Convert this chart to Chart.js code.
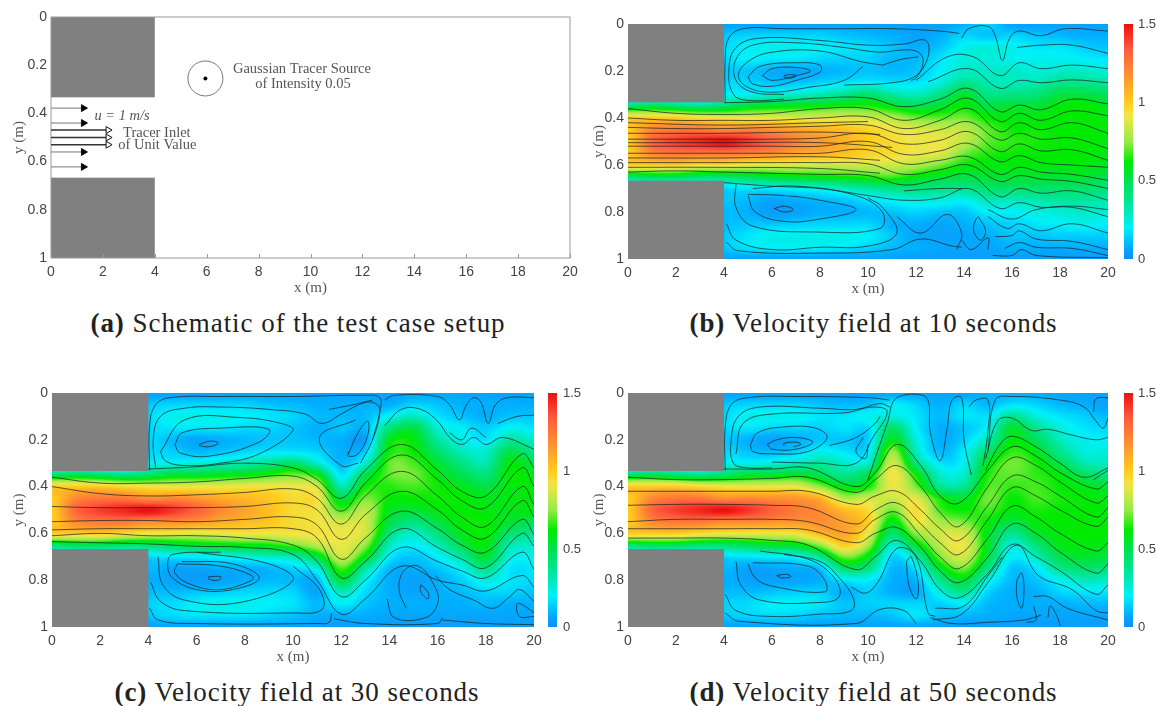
<!DOCTYPE html>
<html>
<head>
<meta charset="utf-8">
<title>Velocity field</title>
<script src="https://cdn.jsdelivr.net/npm/chart.js@4"></script>
<style>
  html, body { margin: 0; padding: 0; background: #fff; overflow: hidden; }
  body { width: 1156px; height: 706px; position: relative; }
  canvas { position: absolute; filter: blur(0.45px); }
  .cap { position: absolute; text-align: center; white-space: nowrap; color: #222; letter-spacing: .95px;
         font-family: "Liberation Serif", serif; font-size: 27px; line-height: 30px; }
</style>
</head>
<body>
<canvas id="panelA" width="578" height="300" style="left:0;top:0"></canvas>
<canvas id="panelB" width="576" height="301" style="left:580px;top:0"></canvas>
<canvas id="panelC" width="590" height="309" style="left:0;top:360px"></canvas>
<canvas id="panelD" width="576" height="309" style="left:580px;top:360px"></canvas>
<div class="cap" style="left:0;width:596px;top:308px"><b>(a)</b> Schematic of the test case setup</div>
<div class="cap" style="left:580px;width:587px;top:308px"><b>(b)</b> Velocity field at 10 seconds</div>
<div class="cap" style="left:0;width:594px;top:677px"><b>(c)</b> Velocity field at 30 seconds</div>
<div class="cap" style="left:580px;width:587px;top:677px"><b>(d)</b> Velocity field at 50 seconds</div>
<script>
// axis ticks
var xTicks = [0, 2, 4, 6, 8, 10, 12, 14, 16, 18, 20];
var yTicks = [0, 0.2, 0.4, 0.6, 0.8, 1];
var barTicks = [0, 0.5, 1, 1.5];

// grid the velocities were read on (m)
var gridX = [0, 1, 2, 3, 4, 5, 6, 7, 8, 9, 10, 11, 12, 13, 14, 15, 16, 17, 18, 19, 20];
var gridY = [0, .05, .1, .15, .2, .25, .3, .35, .4, .45, .5, .55, .6, .65, .7, .75, .8, .85, .9, .95, 1];

// velocity, hundredths of m/s, one list per x column, top to bottom
var velB = [
  [0,0,0,0,0,0,0,45,100,100,100,100,100,45,0,0,0,0,0,0,0],
  [0,0,0,0,0,0,0,50,100,120,130,120,100,50,0,0,0,0,0,0,0],
  [0,0,0,0,0,0,0,45,100,125,140,125,100,50,0,0,0,0,0,0,0],
  [0,0,0,0,0,0,0,40,95,125,145,125,95,45,0,0,0,0,0,0,0],
  [5,12,15,15,12,15,20,45,92,120,150,125,95,45,15,12,10,10,12,12,5],
  [5,15,20,20,12,15,22,55,90,122,142,122,90,50,18,10,8,12,18,18,5],
  [5,15,22,18,8,12,25,58,90,118,132,118,88,55,20,6,4,12,22,20,5],
  [5,15,22,18,6,12,28,60,88,112,122,112,88,58,22,8,5,14,22,20,5],
  [5,15,20,15,8,15,32,62,88,108,115,108,85,60,25,10,8,15,22,20,5],
  [5,12,18,14,10,18,38,65,88,104,108,104,85,62,30,12,8,15,22,18,5],
  [5,10,16,14,12,20,45,65,85,98,100,98,85,65,35,18,10,15,20,15,5],
  [5,8,12,10,10,18,35,58,80,92,95,95,85,68,40,22,12,8,12,10,5],
  [5,5,8,10,12,18,30,50,72,88,90,90,80,60,42,25,15,8,6,8,4],
  [5,8,12,18,20,25,40,55,70,85,90,88,72,55,40,25,12,6,5,6,4],
  [8,15,22,25,28,38,55,62,72,82,82,72,62,52,38,22,12,8,6,6,4],
  [15,12,25,25,28,32,40,52,62,70,70,65,60,55,45,30,20,12,8,6,4],
  [5,15,22,22,28,30,40,55,60,63,66,63,60,55,45,30,20,15,12,8,4],
  [5,12,18,22,25,32,42,55,60,63,64,62,60,55,45,32,24,18,12,8,4],
  [5,10,18,22,28,38,52,60,62,62,62,62,60,55,45,35,26,20,14,8,4],
  [5,8,14,20,28,38,52,62,62,62,62,62,60,55,45,35,28,22,14,8,4],
  [5,8,12,18,25,35,48,58,60,60,60,60,58,50,42,32,26,20,14,8,4]
];
var velC = [
  [0,0,0,0,0,0,0,45,100,100,100,100,100,45,0,0,0,0,0,0,0],
  [0,0,0,0,0,0,0,50,100,120,130,120,100,50,0,0,0,0,0,0,0],
  [0,0,0,0,0,0,0,45,100,125,140,125,100,50,0,0,0,0,0,0,0],
  [0,0,0,0,0,0,0,40,95,125,145,125,95,45,0,0,0,0,0,0,0],
  [5,12,15,15,15,15,20,45,92,118,150,120,92,45,15,10,8,10,14,12,5],
  [5,15,22,18,10,14,22,55,90,120,142,120,90,50,18,6,5,10,16,16,5],
  [5,15,22,18,6,10,25,55,90,116,132,116,88,55,20,6,4,12,20,18,5],
  [5,15,22,18,8,12,28,58,90,110,120,110,90,58,22,8,5,14,22,18,5],
  [5,15,20,16,10,15,32,60,92,106,112,106,92,60,25,8,8,15,22,18,5],
  [5,12,18,15,12,18,38,65,92,102,104,102,90,62,28,10,10,16,20,15,5],
  [5,10,15,12,12,18,45,72,90,95,95,95,92,70,32,15,10,15,18,12,5],
  [5,8,10,8,10,15,28,62,85,92,92,92,92,82,52,25,10,6,10,8,4],
  [5,8,10,12,8,8,10,18,32,52,68,85,90,90,85,68,52,30,20,8,4],
  [5,8,10,10,6,14,28,50,62,72,82,85,85,75,58,35,22,16,12,8,4],
  [5,8,22,42,58,62,70,70,65,62,58,52,42,30,20,10,8,8,8,6,4],
  [6,15,30,52,60,62,68,72,68,62,55,42,28,20,12,8,5,6,8,6,4],
  [6,12,18,26,35,45,55,60,63,63,60,52,42,30,20,12,8,8,8,6,4],
  [6,8,12,20,24,30,40,50,58,62,62,62,58,50,35,22,14,10,8,6,4],
  [5,8,8,14,18,28,32,42,52,58,60,62,62,60,55,40,25,15,10,6,4],
  [5,8,12,22,35,50,60,62,60,60,58,55,45,32,25,18,18,15,8,6,4],
  [5,8,12,18,28,38,52,58,60,60,60,50,38,28,22,18,16,12,8,6,4]
];
var velD = [
  [0,0,0,0,0,0,0,45,100,100,100,100,100,45,0,0,0,0,0,0,0],
  [0,0,0,0,0,0,0,50,100,120,130,120,100,50,0,0,0,0,0,0,0],
  [0,0,0,0,0,0,0,45,100,125,140,125,100,50,0,0,0,0,0,0,0],
  [0,0,0,0,0,0,0,40,95,125,145,125,95,45,0,0,0,0,0,0,0],
  [5,12,15,15,12,15,22,45,92,118,150,120,92,45,15,10,8,10,14,12,5],
  [5,15,22,18,8,12,22,55,90,120,142,120,90,50,18,5,5,10,16,15,5],
  [5,15,22,15,5,10,25,55,90,118,132,118,90,55,20,6,5,12,20,16,5],
  [5,15,22,15,8,14,30,58,90,116,124,116,92,58,22,8,6,14,20,15,5],
  [5,12,18,14,12,22,35,50,75,108,118,118,106,75,38,12,8,14,18,12,5],
  [5,10,18,18,12,18,28,38,58,80,105,112,112,100,72,45,18,8,12,10,5],
  [5,12,22,16,14,18,28,52,62,85,95,100,90,78,58,40,20,14,14,10,5],
  [6,20,25,45,58,75,85,92,90,85,72,58,45,28,15,10,8,8,15,12,5],
  [6,15,18,20,25,30,42,62,72,88,95,90,75,55,32,18,10,6,15,18,6],
  [5,8,10,8,8,10,18,28,38,62,68,78,85,82,72,55,38,25,14,12,5],
  [5,15,18,12,14,20,22,28,38,55,62,72,85,90,85,72,55,38,20,10,4],
  [8,10,18,22,32,45,58,64,68,72,68,62,58,56,52,40,25,15,10,8,4],
  [8,18,38,55,60,66,72,70,66,62,60,52,38,25,20,12,10,8,8,6,4],
  [8,15,25,38,48,58,64,66,68,68,64,60,55,42,30,18,12,8,8,6,4],
  [6,10,18,25,30,38,50,60,62,64,62,62,60,58,50,38,22,15,8,6,4],
  [5,8,14,18,22,25,32,48,58,62,62,62,62,60,55,45,30,18,10,6,4],
  [5,5,10,15,20,25,30,40,55,58,60,62,62,58,52,42,28,18,10,6,4]
];

// streamlines through the jet: y at each key x, null where the line has not started
var jetXB = [0, 2, 4, 6, 8, 10, 11.5, 13, 14.2, 15.5, 16.3, 17.2, 18.5, 20];
var jetB = [
  [null,null,.335,.33,.315,.315,.352,.32,.274,.373,.345,.365,.32,.34],
  [.36,.38,.385,.38,.36,.36,.41,.365,.316,.415,.38,.41,.37,.39],
  [.40,.41,.41,.41,.40,.395,.445,.41,.359,.458,.42,.45,.42,.465],
  [.44,.445,.445,.44,.435,.43,.47,.45,.416,.494,.465,.49,.485,.53],
  [.49,.49,.49,.49,.485,.465,.51,.495,.458,.543,.51,.54,.535,.58],
  [.52,.52,.52,.52,.52,.50,.555,.54,.508,.586,.56,.59,.60,.61],
  [.55,.55,.55,.55,.55,.535,.595,.58,.565,.64,.61,.63,.64,.665],
  [.59,.59,.59,.59,.59,.595,.64,.62,.60,.67,.645,.66,.67,.70],
  [.63,.625,.63,.635,.64,.645,.685,.66,.64,.735,.70,.72,.71,.75],
  [null,null,.675,.69,.70,.73,.75,.74,.70,.785,.76,.78,.78,.82]
];
var jetXC = [0, 2, 4, 6, 8, 10, 11, 12, 13, 14.5, 16, 17, 18, 19.5, 20];
var jetC = [
  [null,null,.325,.315,.30,.32,.37,.45,.33,.22,.33,.42,.44,.26,.32],
  [.36,.385,.385,.38,.365,.355,.40,.505,.385,.265,.37,.46,.49,.32,.40],
  [.40,.43,.44,.435,.425,.41,.45,.56,.44,.335,.44,.53,.57,.40,.477],
  [.485,.49,.49,.49,.485,.47,.50,.625,.52,.42,.50,.585,.62,.46,.53],
  [.55,.545,.545,.55,.54,.53,.565,.71,.62,.505,.58,.65,.68,.54,.605],
  [.585,.58,.58,.58,.58,.58,.62,.79,.72,.58,.66,.71,.747,.60,.655],
  [.61,.60,.61,.61,.62,.65,.72,.87,.80,.66,.72,.76,.79,.68,.754],
  [.635,.64,.645,.655,.66,.69,.80,.945,.88,.74,.80,.82,.846,.78,.83]
];
var jetXD = [0, 2, 4, 6, 7.5, 9.5, 10.3, 11.2, 12.2, 13, 13.8, 15, 16, 17, 18, 19.5, 20];
var jetD = [
  [null,null,.325,.325,.32,.40,.34,.22,.31,.44,.47,.33,.23,.27,.34,.41,.38],
  [.36,.37,.37,.365,.36,.425,.37,.31,.40,.51,.57,.40,.277,.31,.38,.47,.44],
  [.42,.42,.42,.42,.42,.476,.44,.42,.50,.58,.63,.48,.355,.38,.44,.53,.49],
  [.48,.476,.476,.48,.49,.56,.50,.47,.56,.64,.69,.54,.405,.44,.50,.57,.53],
  [.55,.54,.54,.54,.55,.60,.54,.51,.61,.70,.75,.62,.484,.53,.60,.675,.64],
  [.58,.58,.58,.58,.585,.64,.60,.575,.66,.76,.81,.70,.56,.60,.68,.77,.73],
  [.62,.62,.62,.63,.65,.755,.70,.63,.72,.84,.875,.77,.647,.70,.76,.86,.82]
];

// the other streamlines: x, y, x, y ...
var loopsB = [
  [0,.42,4,.43,8,.42,10,.415],
  [0,.465,4,.465,8,.46,10.5,.47],
  [0,.505,4,.505,8,.505,11,.525],
  [0,.57,4,.57,8,.565,10.5,.58],
  [0,.61,4,.61,8,.615,10.5,.635],
  [4.05,.33,4.05,.15,4.2,.06,4.8,.02,6.5,.02,9,.02,11,.02,13,.03,13.8,.04],
  [6.5,.32,5,.325,4.4,.30,4.2,.2,4.5,.1,5.5,.06,8,.07,10,.09,11.5,.085,12.4,.07,12.5,.14,12,.23,11.8,.24],
  [6.5,.30,5.2,.29,4.5,.24,4.5,.15,5.2,.09,7,.08,9,.10,10.5,.12,11.5,.11,12.1,.12,12.3,.16,12,.22,11,.25,9,.26],
  [10.6,.175,9.7,.16,8,.115,6,.12,5,.16,4.6,.22,5,.27,6,.29,7.5,.27,9,.24,9.8,.18],
  [10.6,.175,11.4,.15,12.1,.14],
  [5,.225,5.5,.18,7,.165,8,.175,8,.205,7,.24,6,.265,5.2,.255,5,.225],
  [5.6,.22,6,.19,7,.185,7.6,.2,7,.22,6,.24,5.6,.22],
  [6.5,.22,6.8,.215,7,.22,6.8,.23,6.5,.225,6.5,.22],
  [12.5,.246,14.2,.19,15.5,.274,16.3,.24,17.2,.25,18.5,.238,20,.25],
  [12,.24,13.3,.14,14.4,.14,15.5,.22,16.3,.165,17.2,.19,18.5,.175,20,.19],
  [16.2,.10,17.2,.09,18.5,.09,20,.125],
  [13.9,.06,14.2,.02,15,.01,15.3,.05,15.6,.155,15.9,.06,16.3,.03,17.2,.05,18.2,.02,20,.03],
  [4.5,.68,4.5,.78,5.2,.86,7.8,.885,10.5,.87,10.6,.80,9.5,.73,7,.69,5.2,.70],
  [5,.73,5.3,.80,6.5,.84,8,.83,9.5,.79,8,.75,6.5,.73,5,.725],
  [6.1,.785,6.5,.775,6.9,.79,6.5,.80,6.1,.785],
  [4.1,.85,4.5,.92,6,.96,8,.95,10,.945,11.2,.89,10.6,.78,10,.74],
  [4.1,.93,4.6,.965,8,.975,11,.96,12.2,.915,13.5,.945,13.9,.95],
  [11.2,.82,12.2,.89,13.3,.81,13.9,.89,13.7,.96],
  [11.5,.71,13,.70,13.9,.70],
  [14.6,.82,14.9,.88,14.7,.92,14.4,.88,14.5,.83,14.6,.82],
  [13.9,.92,14.3,.96,15,.91,15,.96],
  [15,.79,16,.83,17,.79,18.5,.775,20,.79],
  [15,.82,15.8,.87,16.3,.85,17.2,.88,18.5,.85,20,.89],
  [15.3,.905,16,.90,16.3,.88,17,.915,18.5,.925,20,.96],
  [15.7,.955,16.3,.93,17,.95,18.5,.955,20,.985],
  [15.2,.985,16,.985,16.4,.96,17,.985,20,.995]
];
var loopsC = [
  [4.05,.33,4.05,.14,4.3,.05,4.9,.02,7,.015,10,.015,13,.01,13.6,.02,13.6,.08,13.3,.2],
  [4.3,.32,4.2,.2,4.5,.1,5.5,.065,7,.06,9,.07,10.5,.09,11.2,.13,12,.09,13,.04,13.5,.05,13.6,.09,13.3,.2,12.8,.3],
  [11.5,.07,12.5,.05,13.3,.03],
  [4.5,.25,5.5,.115,7.8,.105,9.5,.13,10,.16,8.6,.26,7,.30,5.5,.31,4.7,.29,4.5,.25],
  [5.1,.22,5.4,.17,7,.15,9,.155,8.6,.21,6.5,.27,5.3,.255,5.1,.22],
  [6.1,.22,6.6,.205,6.9,.215,6.5,.23,6.1,.225],
  [12.6,.115,11.1,.19,12,.31,12.7,.30],
  [12.3,.26,12.7,.17,13.1,.12,13.1,.18,12.7,.26,12.3,.27,12.3,.25],
  [13.8,.14,14.5,.07,15.3,.07,16,.12,16.5,.19,17,.22,17.5,.19,18,.22,18.7,.19,20,.24],
  [13.8,.03,14.2,.01,16,.015,16.5,.05,16.9,.115,17.2,.05,17.5,.02,17.8,.04,18.1,.13,18.4,.05,18.9,.02,20,.02],
  [16.5,.17,17,.2,17.4,.15,18,.19],
  [18.5,.13,19.3,.10,20,.095],
  [5.4,.72,7.5,.73,8.6,.79,7.5,.84,6,.84,5,.79,4.8,.73,5,.69,7,.68],
  [5.2,.73,7,.74,8.3,.78,8.3,.8,7,.84,5.8,.82,5.1,.77,5.2,.73],
  [6.5,.785,7,.785,6.9,.8,6.5,.795,6.5,.785],
  [4.4,.7,4.6,.82,5.5,.885,7.8,.895,10,.80,9,.73,6,.68],
  [4.1,.81,4.5,.89,5.5,.93,10,.94,11.2,.925,11.1,.84,10,.74],
  [4.05,.92,4.4,.97,6,.985,11,.985,11.5,.98,11.6,.94],
  [11.7,.965,13,.985,16,.985,16.2,.96],
  [15.3,.82,15.6,.85,15.6,.88,15.3,.85,15.3,.82],
  [13.9,.88,14.2,.96,15.5,.96,16,.9,15.9,.83,15.2,.74,14.6,.76,14.4,.84,14.7,.92],
  [20,.955,19.4,.955,19.3,.9,19.6,.91,20,.94],
  [15.9,.78,16.5,.84,17.5,.885,18.3,.92,19,.87,19.4,.84,20,.89],
  [16.2,.97,18,.985,20,.99]
];
var loopsD = [
  [4.05,.33,4.05,.15,4.3,.05,5,.02,7,.015,10,.02,10.9,.03],
  [10,.37,10.8,.13,11.2,.02,12.4,.015,12.6,.17,13,.29,13.3,.15,13.5,.03,13.9,.02,14,.2,14.3,.35],
  [14.2,.06,14.5,.03,15,.03,15,.16,14.8,.31],
  [15,.25,15.3,.03,16,.015,18,.03,19,.06,19.5,.12,19.8,.15,20,.11],
  [19.4,.08,19.5,.025,20,.02],
  [14.9,.28,15.4,.12,16,.107,16.8,.16,17.5,.155,18.5,.18,19.5,.2,20,.19],
  [14.9,.33,15.5,.22,16,.185,17,.23,18,.3,19,.36,20,.32],
  [19.4,.37,20,.33],
  [6,.32,5,.32,4.4,.3,4.3,.2,4.6,.1,5.5,.06,8,.065,9.5,.07,10.5,.045,10.9,.06],
  [4.5,.26,4.8,.13,6,.09,9,.085,10.2,.06,10.8,.08,10.2,.19,9.5,.3,8,.30,6,.295],
  [8.4,.225,9.5,.19,10.3,.13,10.5,.1],
  [9.8,.19,9.5,.25,9.9,.28,10,.22],
  [5.1,.22,5.4,.17,6.5,.145,7.8,.15,8.3,.19,7.5,.25,6,.26,5.2,.25,5.1,.22],
  [5.8,.22,6.2,.2,7,.19,7.7,.21,7,.24,6,.24,5.8,.22],
  [6.5,.225,6.5,.215,7,.21,7.2,.22,6.9,.23],
  [4.05,.86,4.5,.93,6,.955,8,.945,9.3,.93,9.4,.88,8.8,.79,8,.72,6.5,.69],
  [4.5,.72,4.7,.82,5.5,.885,8,.895,8.8,.87,8.6,.79,7.5,.71,5.5,.675],
  [5,.73,5.3,.79,6,.825,8.2,.85,8.2,.8,7.5,.74,5.2,.725],
  [6.2,.78,6.6,.775,6.8,.785,6.4,.79,6.2,.78],
  [4.05,.94,4.6,.975,9.5,.985,10.5,.925,11.5,.93,12,.985],
  [12.6,.96,13.5,.985,15,.98,16.5,.97,17.2,.95],
  [11.6,.72,11.8,.70,12.1,.82,12,.88,11.7,.82,11.6,.72],
  [9.3,.83,9.9,.855,10.4,.81,11.2,.665,12,.70,12.5,.94,12.8,.955],
  [12.7,.97,13.9,.945,15,.81,16.2,.65,17.1,.78,18.5,.84,19.5,.93,20,.94],
  [12.8,.92,14,.91,15,.78,15.6,.7],
  [16.2,.8,16.4,.77,16.5,.84,16.4,.92,16.2,.87,16.2,.8],
  [16.9,.87,17.5,.87,18.3,.92,20,.97],
  [17.5,.96,17.6,.91,17.9,.96,18,.995],
  [16.9,.91,17,.97,16.6,.98]
];

// schematic: arrows and source
var flowArrowY = [.378, .44, .56, .622];
var flowArrowEnd = 1.25;
var tracerArrowY = [.469, .5, .53];
var tracerArrowEnd = 2.2;
var sourceX = [5.95];
var sourceY = [.255];
var noteText = ['Gaussian Tracer Source', 'of Intensity 0.05', 'u = 1 m/s', 'Tracer Inlet', 'of Unit Value'];
var noteX = [9.67, 9.71, 2.74, 4.08, 4.1];
var noteY = [.216, .278, .41, .481, .531];

// solid blocks at the inlet (m)
var blockX = [0, 4];
var blockY = [[0, 1 / 3], [2 / 3, 1]];

// colour scale
var cmapV = [0, .08, .2, .36, .5, .62, .75, .91, 1, 1.19, 1.34, 1.5];
var cmapR = [20, 0, 0, 0, 0, 0, 150, 240, 255, 255, 255, 235];
var cmapG = [140, 175, 240, 230, 225, 235, 235, 230, 205, 140, 90, 15];
var cmapB = [245, 255, 250, 150, 80, 0, 70, 70, 30, 50, 60, 15];

function colorAt(v) {
  if (v <= 0) return [cmapR[0], cmapG[0], cmapB[0]];
  for (var i = 1; i < cmapV.length; i++) {
    if (v <= cmapV[i]) {
      var t = (v - cmapV[i - 1]) / (cmapV[i] - cmapV[i - 1]);
      return [cmapR[i - 1] + (cmapR[i] - cmapR[i - 1]) * t,
              cmapG[i - 1] + (cmapG[i] - cmapG[i - 1]) * t,
              cmapB[i - 1] + (cmapB[i] - cmapB[i - 1]) * t];
    }
  }
  return [cmapR[cmapR.length - 1], cmapG[cmapG.length - 1], cmapB[cmapB.length - 1]];
}

function cubic(a, b, c, d, t) {
  return b + 0.5 * t * (c - a + t * (2 * a - 5 * b + 4 * c - d + t * (3 * (b - c) + d - a)));
}

function locate(list, v) {
  var i = 0;
  while (i < list.length - 2 && v >= list[i + 1]) i++;
  return [i, (v - list[i]) / (list[i + 1] - list[i])];
}

function sample(vel, xv, yv) {
  var px = locate(gridX, xv), py = locate(gridY, yv);
  var nx = gridX.length - 1, ny = gridY.length - 1, rows = [];
  for (var k = -1; k <= 2; k++) {
    var col = vel[Math.max(0, Math.min(nx, px[0] + k))];
    rows.push(cubic(col[Math.max(0, py[0] - 1)], col[py[0]], col[py[0] + 1], col[Math.min(ny, py[0] + 2)], py[1]));
  }
  return cubic(rows[0], rows[1], rows[2], rows[3], px[1]) / 100;
}

function drawBlocks(chart) {
  var c = chart.ctx, sx = chart.scales.x, sy = chart.scales.y;
  c.fillStyle = '#808080';
  blockY.forEach(function(b) {
    c.fillRect(sx.getPixelForValue(blockX[0]), sy.getPixelForValue(b[0]),
      sx.getPixelForValue(blockX[1]) - sx.getPixelForValue(blockX[0]),
      sy.getPixelForValue(b[1]) - sy.getPixelForValue(b[0]));
  });
}

// velocity field and colour bar, read through the chart's own scales
function fieldPlugin(vel, barGap) {
  return {
    id: 'field',
    beforeDatasetsDraw: function(chart) {
      var a = chart.chartArea, sx = chart.scales.x, sy = chart.scales.y, c = chart.ctx;
      var w = Math.round(a.right - a.left), h = Math.round(a.bottom - a.top);
      var img = c.createImageData(w, h), o = 0;
      for (var j = 0; j < h; j++) {
        var yv = sy.getValueForPixel(a.top + j + .5);
        for (var i = 0; i < w; i++) {
          var rgb = colorAt(sample(vel, sx.getValueForPixel(a.left + i + .5), yv));
          img.data[o++] = rgb[0]; img.data[o++] = rgb[1]; img.data[o++] = rgb[2]; img.data[o++] = 255;
        }
      }
      c.putImageData(img, a.left, a.top);
      drawBlocks(chart);
      var sb = chart.scales.cb;
      for (var p = Math.round(sb.top); p < sb.bottom; p++) {
        var col = colorAt(sb.getValueForPixel(p + .5));
        c.fillStyle = 'rgb(' + col.map(Math.round).join(',') + ')';
        c.fillRect(sb.left + barGap, p, 9, 1);
      }
    }
  };
}

var schematicPlugin = {
  id: 'schematic',
  beforeDatasetsDraw: function(chart) {
    var a = chart.chartArea, c = chart.ctx, sx = chart.scales.x;
    drawBlocks(chart);
    c.strokeStyle = '#999';
    c.lineWidth = 1;
    c.strokeRect(a.left, a.top, a.right - a.left, a.bottom - a.top);
    xTicks.forEach(function(t) {
      var p = Math.round(sx.getPixelForValue(t)) + .5;
      c.beginPath(); c.moveTo(p, a.bottom); c.lineTo(p, a.bottom - 4); c.stroke();
    });
  },
  afterDatasetsDraw: function(chart) {
    var c = chart.ctx, sx = chart.scales.x, sy = chart.scales.y;
    c.fillStyle = '#555';
    c.textAlign = 'center';
    c.textBaseline = 'middle';
    noteText.forEach(function(t, i) {
      c.font = (i == 2 ? 'italic ' : '') + '14.5px "Liberation Serif"';
      c.fillText(t, sx.getPixelForValue(noteX[i]), sy.getPixelForValue(noteY[i]));
    });
  }
};

function flatToPoints(flat) {
  var pts = [];
  for (var i = 0; i < flat.length; i += 2) pts.push({x: flat[i], y: flat[i + 1]});
  return pts;
}

function keysToPoints(xs, ys) {
  var pts = [];
  ys.forEach(function(y, i) { if (y !== null) pts.push({x: xs[i], y: y}); });
  return pts;
}

function streamSet(points) {
  return {
    data: points, showLine: true, pointRadius: 0, tension: 0.4,
    borderColor: 'rgba(25,35,35,.72)', borderWidth: 1, fill: false
  };
}

function arrowSet(y, end, width, headFill, head) {
  return {
    data: [{x: 0, y: y}, {x: end, y: y}], showLine: true, borderColor: width > 1 ? '#333' : '#777', borderWidth: width,
    tension: 0, pointStyle: 'triangle', pointRotation: 90, pointRadius: [0, head],
    pointBackgroundColor: headFill, pointBorderColor: '#111', pointBorderWidth: 1
  };
}

// no automatic room for the outer tick labels: the plot rectangles are fixed
function noAutoPadding(s) {
  s.paddingTop = 0; s.paddingBottom = 0; s.paddingLeft = 0; s.paddingRight = 0;
}

function baseOptions(pad, yWidth, barWidth, barPadding) {
  var tickFont = {family: '"Liberation Sans"', size: 14};
  var titleFont = {family: '"Liberation Serif"', size: 15};
  var scales = {
    x: {
      type: 'linear', min: 0, max: 20, grid: {display: false, drawTicks: false}, border: {display: false},
      afterBuildTicks: function(s) { s.ticks = xTicks.map(function(v) { return {value: v}; }); },
      afterFit: function(s) { s.height = 42; noAutoPadding(s); },
      ticks: {autoSkip: false, maxRotation: 0, font: tickFont, color: '#444', padding: 6},
      title: {display: true, text: 'x (m)', font: titleFont, color: '#555', padding: {top: 0, bottom: 3}}
    },
    y: {
      type: 'linear', min: 0, max: 1, reverse: true, grid: {display: false, drawTicks: false}, border: {display: false},
      afterBuildTicks: function(s) { s.ticks = yTicks.map(function(v) { return {value: v}; }); },
      afterFit: function(s) { s.width = yWidth; noAutoPadding(s); },
      ticks: {autoSkip: false, font: tickFont, color: '#444', padding: 4, callback: function(v) { return String(v); }},
      title: {display: true, text: 'y (m)', font: titleFont, color: '#555', padding: {top: 10, bottom: 0}}
    }
  };
  if (barWidth) {
    scales.cb = {
      type: 'linear', position: 'right', min: 0, max: 1.5, grid: {display: false, drawTicks: false}, border: {display: false},
      afterBuildTicks: function(s) { s.ticks = barTicks.map(function(v) { return {value: v}; }); },
      afterFit: function(s) { s.width = barWidth; noAutoPadding(s); },
      ticks: {autoSkip: false, font: {family: '"Liberation Sans"', size: 13}, color: '#444', padding: barPadding, callback: function(v) { return String(v); }}
    };
  }
  return {
    responsive: false, maintainAspectRatio: false, animation: false, events: [],
    layout: {padding: pad, autoPadding: false},
    plugins: {legend: {display: false}, tooltip: {enabled: false}, title: {display: false}},
    scales: scales
  };
}

function fieldChart(id, vel, jetX, jet, loops, pad, yWidth, barWidth, barGap, barPadding) {
  var sets = jet.map(function(ys) { return streamSet(keysToPoints(jetX, ys)); })
    .concat(loops.map(function(f) { return streamSet(flatToPoints(f)); }));
  sets.forEach(function(s) { s.yAxisID = 'y'; });
  return new Chart(document.getElementById(id), {
    type: 'scatter',
    data: {datasets: sets},
    options: baseOptions(pad, yWidth, barWidth, barPadding),
    plugins: [fieldPlugin(vel, barGap)]
  });
}

var arrows = [];
flowArrowY.forEach(function(y) { arrows.push(arrowSet(y, flowArrowEnd, 1, '#000', 4)); });
tracerArrowY.forEach(function(y) { arrows.push(arrowSet(y, tracerArrowEnd, 1.6, '#fff', 4)); });
arrows.push({
  data: [{x: sourceX[0], y: sourceY[0]}], pointRadius: 17.5,
  pointBackgroundColor: 'rgba(0,0,0,0)', pointBorderColor: '#777', pointBorderWidth: 1
});
arrows.push({
  data: [{x: sourceX[0], y: sourceY[0]}], pointRadius: 2,
  pointBackgroundColor: '#000', pointBorderColor: '#000', pointBorderWidth: 0
});

new Chart(document.getElementById('panelA'), {
  type: 'scatter',
  data: {datasets: arrows},
  options: baseOptions({top: 17, right: 8}, 51, 0, 0),
  plugins: [schematicPlugin]
});

fieldChart('panelB', velB, jetXB, jetB, loopsB, {top: 24}, 48, 48, 16, 30);
fieldChart('panelC', velC, jetXC, jetC, loopsC, {top: 33}, 52, 56, 14, 29);
fieldChart('panelD', velD, jetXD, jetD, loopsD, {top: 33}, 48, 48, 16, 30);
</script>
</body>
</html>
